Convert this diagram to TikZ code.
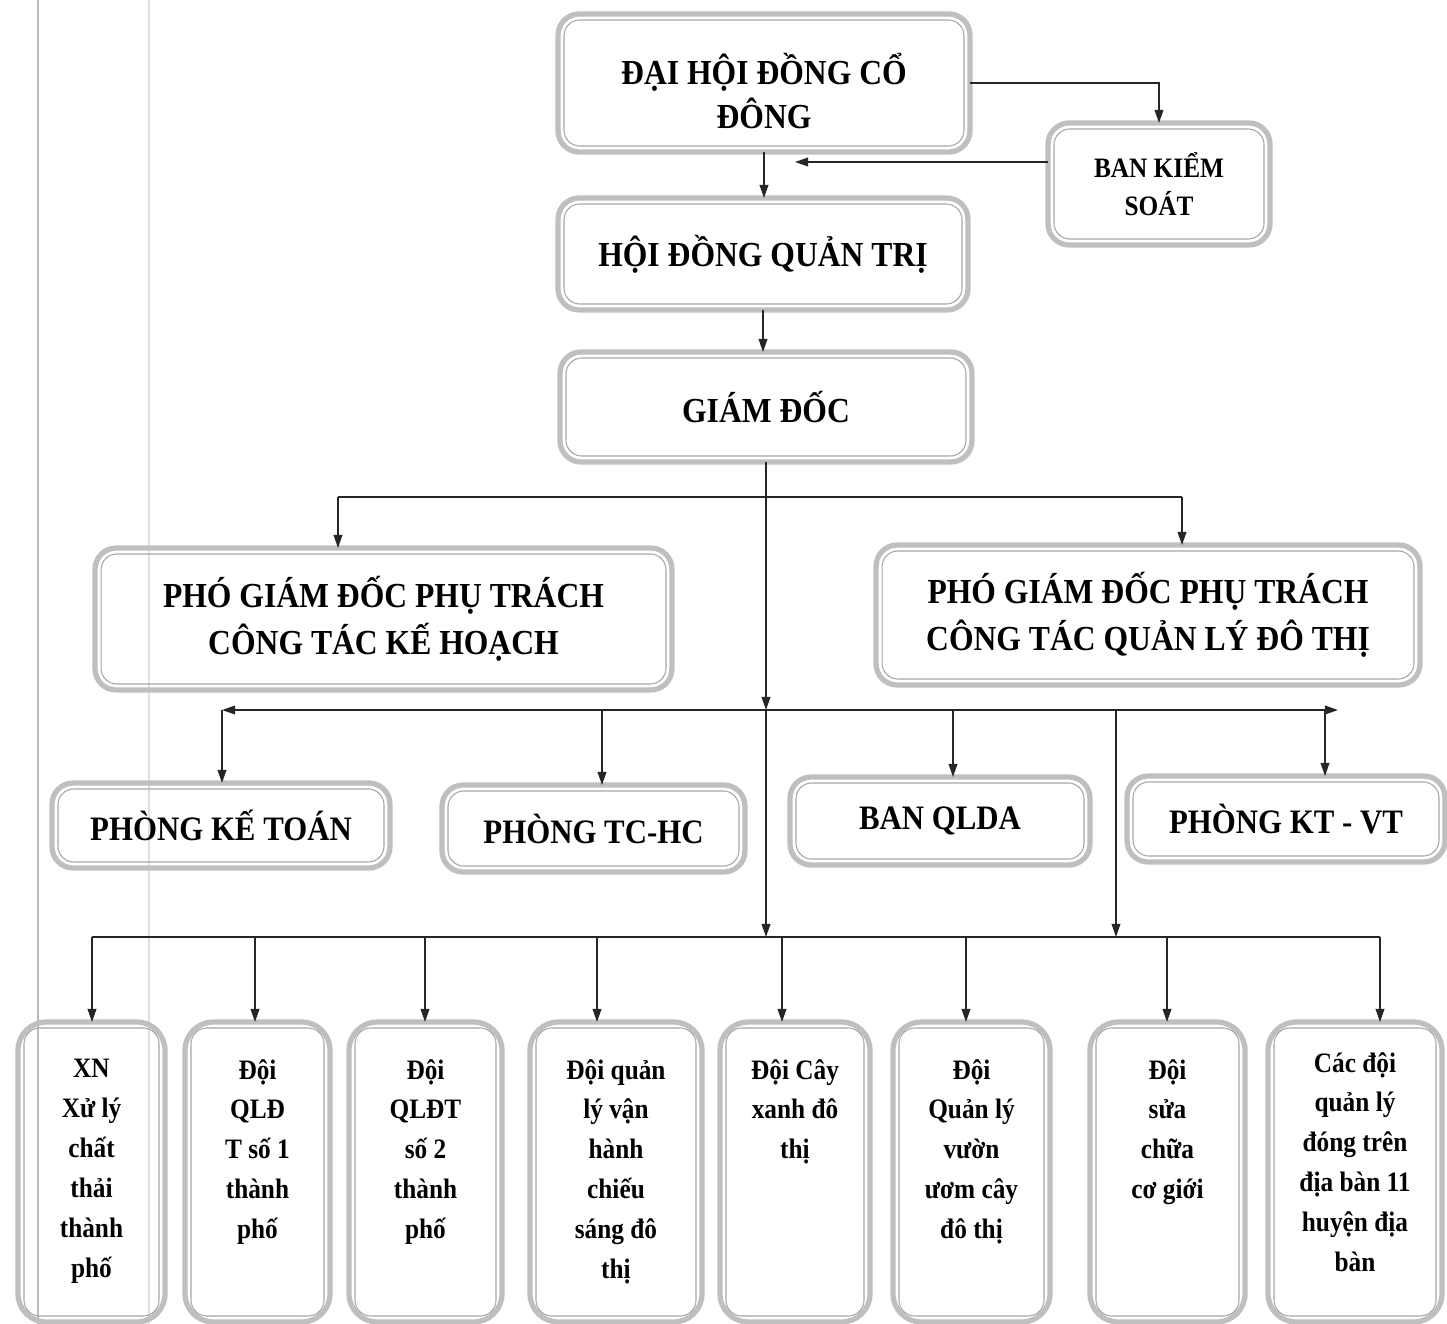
\documentclass[tikz,border=0pt]{standalone}
\usepackage{fontspec}
\setmainfont{Liberation Serif}[FakeStretch=0.9]
\usetikzlibrary{arrows.meta,positioning}
\tikzset{
  unit/.style={draw=gray!50, line width=3pt, rounded corners=12pt, outer sep=0pt, align=center, inner sep=2pt,
    append after command={\pgfextra{\draw[gray!70, line width=0.6pt, fill=none, rounded corners=9pt]
      ([shift={(3.4pt,-3.4pt)}]\tikzlastnode.north west) rectangle ([shift={(-3.4pt,3.4pt)}]\tikzlastnode.south east);}}},
  tallunit/.style={unit, rounded corners=16pt, minimum height=6cm},
  headfont/.style={font=\bfseries\fontsize{20}{25.5}\selectfont},
  pgdfont/.style={font=\bfseries\fontsize{20}{27}\selectfont},
  sidefont/.style={font=\bfseries\fontsize{16}{21.5}\selectfont},
  deptfont/.style={font=\bfseries\fontsize{19.5}{24}\selectfont},
  teamtext/.style={font=\bfseries\fontsize{16}{22.7}\selectfont, align=center, inner sep=0pt},
  link/.style={draw=black!85, line width=0.8pt},
  arr/.style={link, ->},
  >={Triangle[length=7.5pt,width=5pt]}
}

\begin{document}
\begin{tikzpicture}[x=0.02cm,y=-0.02cm]
\useasboundingbox (0,0) rectangle (1447,1324);
% scan margins
\draw[gray!55, line width=1.2pt] (38,0) -- (38,1324);
\draw[gray!25, line width=0.6pt] (149,0) -- (149,1324);

% upper levels
\node[unit, headfont, minimum width=8.24cm, minimum height=2.76cm] (dhdcd) at (764,83) {\rule{0pt}{27pt}ĐẠI HỘI ĐỒNG CỔ\\ĐÔNG};
\node[unit, sidefont, minimum width=4.44cm, minimum height=2.44cm] (bks) at (1159,184) {BAN KIỂM\\SOÁT};
\node[unit, headfont, minimum width=8.2cm, minimum height=2.24cm] (hdqt) at (763,254) {HỘI ĐỒNG QUẢN TRỊ};
\node[unit, headfont, minimum width=8.24cm, minimum height=2.2cm] (gd) at (766,407) {GIÁM ĐỐC};
\node[unit, pgdfont, minimum width=11.54cm, minimum height=2.84cm] (pgdkh) at (383.5,619) {PHÓ GIÁM ĐỐC PHỤ TRÁCH\\CÔNG TÁC KẾ HOẠCH};
\node[unit, pgdfont, minimum width=10.88cm, minimum height=2.8cm] (pgdql) at (1148,615) {PHÓ GIÁM ĐỐC PHỤ TRÁCH\\CÔNG TÁC QUẢN LÝ ĐÔ THỊ};

% departments
\node[unit, deptfont, minimum width=6.76cm, minimum height=1.7cm] (pkt) at (221,825.5) {PHÒNG KẾ TOÁN};
\node[unit, deptfont, minimum width=6.06cm, minimum height=1.74cm] (tchc) at (593.5,828.5) {PHÒNG TC-HC};
\node[unit, deptfont, minimum width=6.0cm, minimum height=1.76cm] (qlda) at (940,821) {BAN QLDA};
\node[unit, deptfont, minimum width=6.36cm, minimum height=1.72cm] (ktvt) at (1286,819) {PHÒNG KT - VT};

% teams
\foreach \nm/\cx/\w in {b1/91.5/2.94, b2/257.5/2.9, b3/425.5/3.06, b4/616/3.44, b5/795/3.0, b6/971.5/3.14, b7/1167.5/3.1, b8/1355/3.48}
  \node[tallunit, minimum width=\w cm] (\nm) at (\cx,1172) {};
\node[teamtext, below=21pt of b1.north] (t1) {XN\\Xử lý\\chất\\thải\\thành\\phố};
\node[teamtext, below=21pt of b2.north] (t2) {Đội\\QLĐ\\T số 1\\thành\\phố};
\node[teamtext, below=21pt of b3.north] (t3) {Đội\\QLĐT\\số 2\\thành\\phố};
\node[teamtext, below=21pt of b4.north] (t4) {Đội quản\\lý vận\\hành\\chiếu\\sáng đô\\thị};
\node[teamtext, below=21pt of b5.north] (t5) {Đội Cây\\xanh đô\\thị};
\node[teamtext, below=21pt of b6.north] (t6) {Đội\\Quản lý\\vườn\\ươm cây\\đô thị};
\node[teamtext, below=21pt of b7.north] (t7) {Đội\\sửa\\chữa\\cơ giới};
\node[teamtext, below=17pt of b8.north] (t8) {Các đội\\quản lý\\đóng trên\\địa bàn 11\\huyện địa\\bàn};

% top links
\coordinate (bksin) at (795,162);
\draw[arr] (dhdcd.east) -| (bks.north);
\draw[arr] (bks.west |- bksin) -- (bksin);
\draw[arr] (dhdcd.south) -- (dhdcd.south |- hdqt.north);
\draw[arr] (hdqt.south) -- (hdqt.south |- gd.north);

% bus to deputies
\coordinate (jA) at (338,497);
\coordinate (jB) at (1182,497);
\draw[link] (jA) -- (jB);
\draw[arr] (jA) -- (jA |- pgdkh.north);
\draw[arr] (jB) -- (jB |- pgdql.north);

% bus to departments
\coordinate (mL) at (222,710);
\coordinate (mR) at (1338,710);
\coordinate (busC) at (766,937);
\draw[link, <->] (mL) -- (mR);
\draw[arr] (gd.south) -- (gd.south |- mL);
\draw[arr] (gd.south |- mL) -- (gd.south |- busC);
\foreach \x/\nm in {222/pkt, 602/tchc, 953/qlda, 1325/ktvt}{
  \coordinate (tap\nm) at (\x,710);
  \draw[arr] (tap\nm) -- (tap\nm |- \nm.north);
}
\coordinate (mQ) at (1116,710);
\draw[arr] (mQ) -- (mQ |- busC);

% bus to teams
\coordinate (cL) at (92,937);
\coordinate (cR) at (1380,937);
\draw[link] (cL) -- (cR);
\foreach \x/\nm in {92/b1, 255/b2, 425/b3, 597/b4, 782/b5, 966/b6, 1167/b7, 1380/b8}{
  \coordinate (tc\nm) at (\x,937);
  \draw[arr] (tc\nm) -- (tc\nm |- \nm.north);
}
\end{tikzpicture}
\end{document}
